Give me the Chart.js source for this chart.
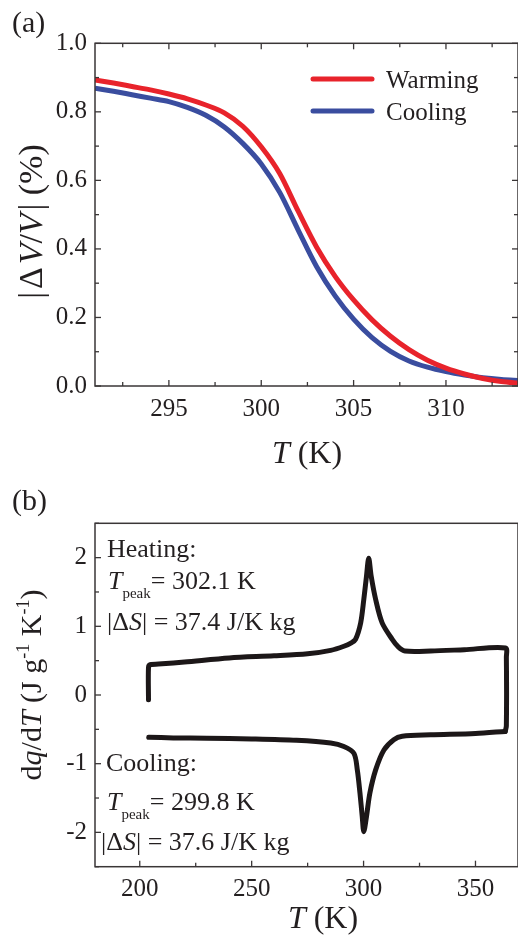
<!DOCTYPE html>
<html><head><meta charset="utf-8">
<script src="https://cdn.jsdelivr.net/npm/chart.js@4"></script>
<style>
html,body{margin:0;padding:0;background:#fff;}
#wrap{position:relative;width:518px;height:940px;overflow:hidden;background:#fff;}
canvas{position:absolute;left:0;}
#c1{top:0}
#c2{top:470px}
</style></head><body>
<div id="wrap"><canvas id="c1" width="518" height="470"></canvas><canvas id="c2" width="518" height="470"></canvas></div>
<script>
// ---------- Panel (a) data ----------
const tempA   = [291,292,293,294,295,296,297,298,299,300,301,302,303,304,305,306,307,308,309,310,311,312,313,314];
const warming = [0.893,0.884,0.874,0.864,0.852,0.838,0.820,0.797,0.758,0.698,0.620,0.510,0.405,0.320,0.251,0.193,0.145,0.106,0.075,0.052,0.035,0.022,0.013,0.008];
const cooling = [0.869,0.860,0.850,0.840,0.830,0.813,0.790,0.756,0.708,0.648,0.565,0.455,0.348,0.263,0.195,0.141,0.101,0.073,0.055,0.042,0.032,0.024,0.019,0.016];
const xTicksA = [295,300,305,310];
const yTicksA = [0,0.2,0.4,0.6,0.8,1.0];
const legendA = ['Warming','Cooling'];

// ---------- Panel (b) data ----------
const heatT = [203.9,203.9,204.6,210,220,240,260,275,285.3,291.2,294.5,296.4,298.7,300.1,301.3,302.3,303.4,305.4,308.3,312.8,315.5,318.5,330,345,363.4,363.8,363.8,363.3];
const heatQ = [-0.07,0.40,0.44,0.455,0.48,0.54,0.57,0.6,0.65,0.71,0.76,0.81,1.05,1.39,1.73,1.99,1.73,1.39,1.05,0.81,0.70,0.64,0.64,0.66,0.685,0.55,-0.45,-0.53];
const coolT = [363.3,350,330,317.3,313.5,309.1,305.4,302.8,301.3,300.1,299.4,298.4,297.2,295.7,291.2,285.3,270,250,230,215,204];
const coolQ = [-0.53,-0.56,-0.58,-0.60,-0.65,-0.80,-1.09,-1.43,-1.77,-1.99,-1.77,-1.43,-1.09,-0.85,-0.75,-0.70,-0.66,-0.64,-0.63,-0.625,-0.615];
const xTicksB = [200,250,300,350];
const yTicksB = [-2,-1,0,1,2];

// ---------- styles ----------
const SERIF = '"Liberation Serif","Times New Roman",serif';
const TXT = '#231f20';
const AX = '#3a3637';
const RED = '#e8232b';
const BLUE = '#3a4d9f';
const BLK = '#1c1718';
const f = (px, it) => (it ? 'italic ' : '') + px + 'px ' + SERIF;

function richWidth(ctx, parts){ let w=0; for(const p of parts){ctx.font=p.f; w+=ctx.measureText(p.t).width;} return w; }
function drawRich(ctx, parts, x, y, center, rot){
  ctx.save(); ctx.translate(x,y); if(rot) ctx.rotate(rot);
  let cx = center ? -richWidth(ctx,parts)/2 : 0;
  ctx.textBaseline='alphabetic'; ctx.textAlign='left'; ctx.fillStyle=TXT;
  for(const p of parts){ ctx.font=p.f; ctx.fillText(p.t, cx, p.dy||0); cx += ctx.measureText(p.t).width; }
  ctx.restore();
}

const framePlugin = {
  id:'frame',
  afterDraw(chart, args, o){
    const {ctx, chartArea:a} = chart; const x=chart.scales.x, y=chart.scales.y;
    ctx.save(); ctx.strokeStyle=AX; ctx.lineWidth=1.5;
    ctx.strokeRect(a.left,a.top,a.right-a.left,a.bottom-a.top);
    ctx.lineWidth=1.3;
    const ln=(x1,y1,x2,y2)=>{ctx.beginPath();ctx.moveTo(x1,y1);ctx.lineTo(x2,y2);ctx.stroke();};
    const MAJ=6, MIN=4;
    for(let v=Math.ceil(x.min/o.xMinor-1e-9)*o.xMinor; v<=x.max+1e-9; v+=o.xMinor){
      const isMaj = x.ticks.some(t=>Math.abs(t.value-v)<1e-6); const L=isMaj?MAJ:MIN;
      const px=x.getPixelForValue(v);
      ln(px,a.bottom,px,a.bottom-L); if(o.mirror) ln(px,a.top,px,a.top+L);
    }
    for(let v=Math.ceil(y.min/o.yMinor-1e-9)*o.yMinor; v<=y.max+1e-9; v+=o.yMinor){
      const isMaj = y.ticks.some(t=>Math.abs(t.value-v)<1e-6); const L=isMaj?MAJ:MIN;
      const py=y.getPixelForValue(v);
      ln(a.left,py,a.left+L,py); if(o.mirror) ln(a.right,py,a.right-L,py);
    }
    ctx.restore();
    if(o.draw) o.draw(chart, ctx);
  }
};

function scaleCfg(min,max,ticks,fmt,fitProp,fitVal,pad){
  return {
    type:'linear', min, max,
    afterBuildTicks: s => { s.ticks = ticks.map(v=>({value:v})); },
    afterFit: s => { s[fitProp] = fitVal; },
    grid:{display:false, drawTicks:false},
    border:{display:false},
    ticks:{color:TXT, font:{family:SERIF, size:25}, padding:pad, callback: fmt, maxRotation:0, autoSkip:false}
  };
}

// ---------- Chart (a) ----------
new Chart(document.getElementById('c1'), {
  type:'line',
  data:{ datasets:[
    {label:legendA[0], data:tempA.map((t,i)=>({x:t,y:warming[i]})), borderColor:RED, borderWidth:5, pointRadius:0, cubicInterpolationMode:'monotone', fill:false},
    {label:legendA[1], data:tempA.map((t,i)=>({x:t,y:cooling[i]})), borderColor:BLUE, borderWidth:5, pointRadius:0, cubicInterpolationMode:'monotone', fill:false}
  ]},
  options:{
    responsive:false, devicePixelRatio:1, animation:false,
    layout:{padding:{top:43.3, right:0, left:0, bottom:0}},
    scales:{
      x: scaleCfg(291,313.9,xTicksA,v=>String(v),'height',84,8),
      y: scaleCfg(0,1,yTicksA,v=>Number(v).toFixed(1),'width',95,8)
    },
    plugins:{ legend:{display:false}, tooltip:{enabled:false},
      frame:{ mirror:true, xMinor:2.5, yMinor:0.1, draw:(chart,ctx)=>{
        drawRich(ctx,[{t:'(a)',f:f(30)}],12,32,false);
        drawRich(ctx,[{t:'T',f:f(32,true)},{t:' (K)',f:f(32)}],307,463,true);
        drawRich(ctx,[{t:'|\u200A\u0394\u200A',f:f(34)},{t:'V',f:f(34,true)},{t:'/',f:f(34)},{t:'V',f:f(34,true)},{t:'\u200A| (%)',f:f(34)}],42,221.5,true,-Math.PI/2);
        // legend
        chart.data.datasets.forEach((ds,i)=>{
          const yy = 79 + i*32;
          ctx.save(); ctx.strokeStyle=ds.borderColor; ctx.lineWidth=5; ctx.lineCap='round';
          ctx.beginPath(); ctx.moveTo(313,yy); ctx.lineTo(372,yy); ctx.stroke(); ctx.restore();
          drawRich(ctx,[{t:ds.label,f:f(25)}],386,yy+8.5,false);
        });
      }}
    }
  },
  plugins:[framePlugin]
});

// ---------- Chart (b) ----------
new Chart(document.getElementById('c2'), {
  type:'scatter',
  data:{ datasets:[
    {label:'Heating', data:heatT.map((t,i)=>({x:t,y:heatQ[i]})), showLine:true, borderColor:BLK, borderWidth:5, pointRadius:0, tension:0.3, borderCapStyle:'round', borderJoinStyle:'round'},
    {label:'Cooling', data:coolT.map((t,i)=>({x:t,y:coolQ[i]})), showLine:true, borderColor:BLK, borderWidth:5, pointRadius:0, tension:0.3, borderCapStyle:'round', borderJoinStyle:'round'}
  ]},
  options:{
    responsive:false, devicePixelRatio:1, animation:false,
    layout:{padding:{top:53.3, right:0, left:0, bottom:0}},
    scales:{
      x: scaleCfg(180,369,xTicksB,v=>String(v),'height',73.3,8),
      y: scaleCfg(-2.5,2.5,yTicksB,v=>String(v),'width',95,8)
    },
    plugins:{ legend:{display:false}, tooltip:{enabled:false},
      frame:{ mirror:false, xMinor:25, yMinor:0.5, draw:(chart,ctx)=>{
        drawRich(ctx,[{t:'(b)',f:f(30)}],12,39.5,false);
        drawRich(ctx,[{t:'T',f:f(32,true)},{t:' (K)',f:f(32)}],323,458,true);
        drawRich(ctx,[{t:'d',f:f(30)},{t:'q',f:f(30,true)},{t:'/d',f:f(30)},{t:'T',f:f(30,true)},{t:' (J g',f:f(30)},{t:'-1',f:f(18),dy:-12},{t:' K',f:f(30)},{t:'-1',f:f(18),dy:-12},{t:')',f:f(30)}],41,215,true,-Math.PI/2);
        const L=26;
        drawRich(ctx,[{t:'Heating:',f:f(L)}],107,86.5,false);
        drawRich(ctx,[{t:'T',f:f(L,true)},{t:'peak',f:f(15),dy:9},{t:'= 302.1 K',f:f(L)}],108,119,false);
        drawRich(ctx,[{t:'|\u0394',f:f(L)},{t:'S',f:f(L,true)},{t:'| = 37.4 J/K kg',f:f(L)}],107,160,false);
        drawRich(ctx,[{t:'Cooling:',f:f(L)}],106,301,false);
        drawRich(ctx,[{t:'T',f:f(L,true)},{t:'peak',f:f(15),dy:9},{t:'= 299.8 K',f:f(L)}],107,340,false);
        drawRich(ctx,[{t:'|\u0394',f:f(L)},{t:'S',f:f(L,true)},{t:'| = 37.6 J/K kg',f:f(L)}],101,380,false);
      }}
    }
  },
  plugins:[framePlugin]
});
</script>
</body></html>
